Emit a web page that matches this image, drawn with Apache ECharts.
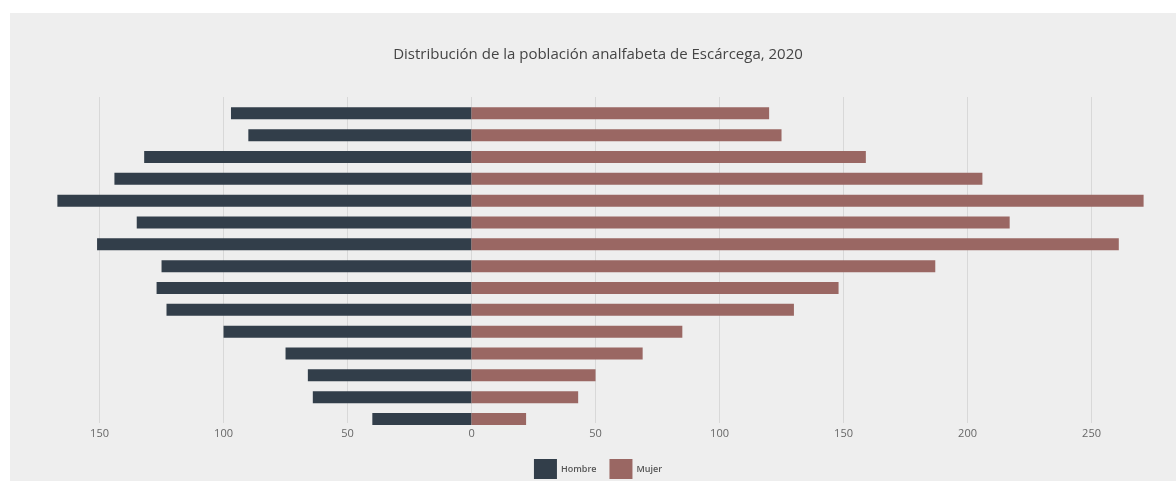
<!DOCTYPE html>
<html>
<head>
<meta charset="utf-8">
<script src="https://cdn.jsdelivr.net/npm/echarts@6/dist/echarts.min.js"></script>
<style>
  html, body { margin: 0; padding: 0; background: #ffffff; overflow: hidden; width: 1176px; height: 483px; }
  #chart { position: absolute; left: 10px; top: 13px; width: 1176px; height: 468px; }
</style>
</head>
<body>
<div id="chart"></div>
<script>
// Age groups, bottom to top
const categories = ['15-19','20-24','25-29','30-34','35-39','40-44','45-49','50-54','55-59','60-64','65-69','70-74','75-79','80-84','85+'];
const hombre = [40, 64, 66, 75, 100, 123, 127, 125, 151, 135, 167, 144, 132, 90, 97];
const mujer  = [22, 43, 50, 69, 85, 130, 148, 187, 261, 217, 271, 206, 159, 125, 120];
const seriesNames = ['Hombre', 'Mujer'];
const axisMin = -168;
const axisMax = 271;

const chart = echarts.init(document.getElementById('chart'));
const FONT = 'Open Sans';
const gridLeft = 44.9, gridWidth = 1088.7;

chart.setOption({
  backgroundColor: '#eeeeee',
  animation: false,
  title: {
    text: 'Distribución de la población analfabeta de Escárcega, 2020',
    left: 'center',
    top: 29,
    textStyle: { fontFamily: FONT, fontSize: 15, fontWeight: 'normal', color: '#444444' }
  },
  legend: {
    data: seriesNames,
    top: 441,
    left: 'center',
    itemWidth: 23,
    itemHeight: 20,
    itemGap: 13,
    icon: 'rect',
    textStyle: { fontFamily: FONT, fontSize: 9, fontWeight: 600, color: '#555555', padding: [0, 0, 0, -1] }
  },
  grid: [
    { left: gridLeft, width: gridWidth, top: 84, height: 326 },
    { left: gridLeft, width: gridWidth, top: 89.4, height: 327.5 }
  ],
  xAxis: [
    {
      gridIndex: 0, type: 'value', min: axisMin, max: axisMax, splitNumber: 9,
      axisLine: { show: false }, axisTick: { show: false },
      axisLabel: {
        margin: 5, color: '#666666', fontFamily: FONT, fontSize: 11,
        showMinLabel: false, showMaxLabel: false,
        formatter: v => String(Math.abs(v))
      },
      splitLine: { show: true, showMinLine: false, showMaxLine: false, lineStyle: { color: '#d8d8d8', width: 1 } }
    },
    {
      gridIndex: 1, type: 'value', min: axisMin, max: axisMax, show: false,
      splitLine: { show: false }
    }
  ],
  yAxis: [
    { gridIndex: 0, type: 'category', data: categories, show: false },
    { gridIndex: 1, type: 'category', data: categories, show: false }
  ],
  series: [
    {
      name: seriesNames[0], type: 'bar', stack: 'total', xAxisIndex: 1, yAxisIndex: 1,
      barWidth: 12,
      itemStyle: { color: '#323e4a' },
      data: hombre.map(v => -v)
    },
    {
      name: seriesNames[1], type: 'bar', stack: 'total', xAxisIndex: 1, yAxisIndex: 1,
      barWidth: 12,
      itemStyle: { color: '#9a6763' },
      data: mujer
    }
  ]
});
</script>
</body>
</html>
